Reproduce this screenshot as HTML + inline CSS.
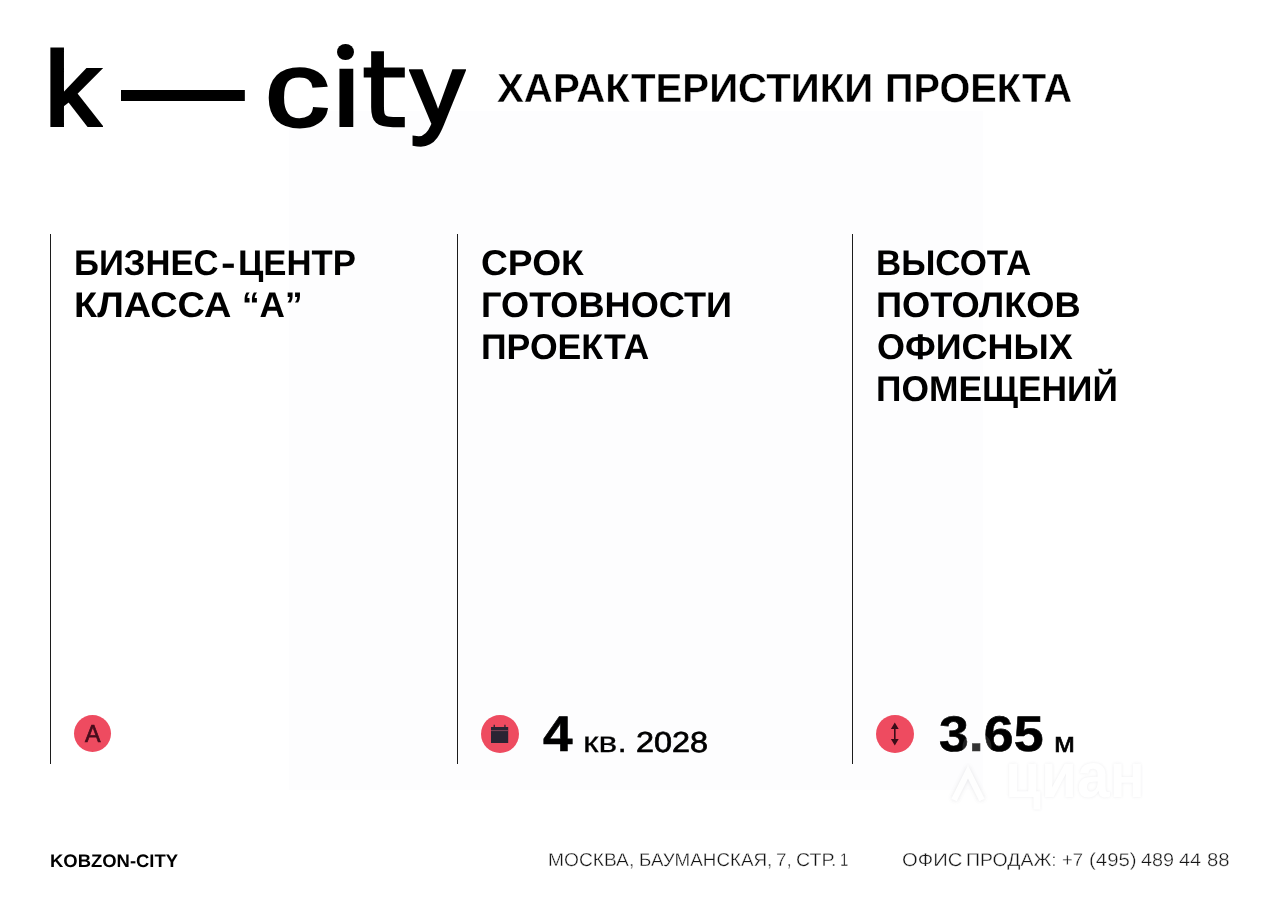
<!DOCTYPE html>
<html lang="ru">
<head>
<meta charset="utf-8">
<title>k — city · Характеристики проекта</title>
<style>
html,body{margin:0;padding:0;background:#fff}
body{width:1280px;height:906px;position:relative;overflow:hidden;font-family:"Liberation Sans",sans-serif;color:#000;text-rendering:geometricPrecision}
.panel{position:absolute;left:289px;top:111px;width:694px;height:679px;background:#fdfdfe}
.t{position:absolute;left:0;white-space:nowrap;line-height:1;margin:0;font-weight:400}
.t span{position:absolute;top:0;transform-origin:0 0;white-space:nowrap}
.b{font-weight:700}
.r{font-weight:400}
.g{position:absolute;font-weight:400;font-size:110px;line-height:1;transform-origin:0 0;white-space:nowrap}
.dot{position:absolute;left:337.3px;top:43.7px;width:16.9px;height:16.2px;border-radius:50%;background:#000}
.vl{position:absolute;top:234px;width:1px;height:530px;background:#1c1c1c}
.ic{position:absolute;width:38px;height:38px;border-radius:50%;background:#ee4b60}
.foot{color:#141414}
.ia{color:#470d1c}
.wm{position:absolute;left:1004.5px;top:745px;font-size:63px;line-height:1;font-weight:700;color:#fff;white-space:nowrap;transform-origin:0 0;transform:scaleX(.93);text-shadow:0 0 3px rgba(110,110,125,.14)}
</style>
</head>
<body>
<div class="panel"></div>

<header class="logo" aria-label="k — city">
<span class="g" style="left:44.51px;top:37.55px;transform:scale(0.994,0.9494);-webkit-text-stroke:4.0px #000">k</span> <span class="g" style="left:121.1px;top:-1.69px;transform:scale(1.1255,1.5236)">—</span> <span class="g" style="left:265.13px;top:36.65px;transform:scale(1.1708,0.9701);-webkit-text-stroke:3.0px #000">c</span><span class="g" style="left:333.56px;top:38.71px;transform:scale(1.0127,0.9371);-webkit-text-stroke:4.0px #000;clip-path:inset(31px -5px -5px -5px)">i</span><span class="g" style="left:361.64px;top:37.71px;transform:scale(1.0244,0.9506);-webkit-text-stroke:2.6px #000;font-family:'DejaVu Sans',sans-serif">t</span><span class="g" style="left:411.08px;top:39.51px;transform:scale(0.9606,0.9123);-webkit-text-stroke:4.0px #000">y</span>
<i class="dot"></i>
</header>
<h1 class="t b" style="top:68.21px;font-size:40.62px;-webkit-text-stroke:0.35px #fff"><span style="left:497.26px;transform:scaleX(0.9913)">ХАРАКТЕРИСТИКИ</span> <span style="left:885.13px;transform:scaleX(0.9763)">ПРОЕКТА</span></h1>

<div class="vl" style="left:50px"></div>
<div class="vl" style="left:457px"></div>
<div class="vl" style="left:852px"></div>

<section>
<div class="t b" style="top:245.8px;font-size:35.71px"><span style="left:74.17px;transform:scaleX(0.9698)">БИЗНЕС</span><span style="left:221.17px;transform:scaleX(1.2285)">-</span><span style="left:237.66px;transform:scaleX(0.9728)">ЦЕНТР</span></div>
<div class="t b" style="top:287.8px;font-size:35.71px"><span style="left:73.95px;transform:scaleX(1.062)">КЛАССА</span> <span style="left:242.01px;transform:scaleX(0.9856)">“А”</span></div>
<div class="ic" style="left:74px;top:715px;width:37px;height:37px"></div>
<div class="t r ia" style="top:723.45px;font-size:24.62px;-webkit-text-stroke:0.7px currentColor"><span style="left:85.27px;transform:scaleX(0.9466)">A</span></div>
</section>

<section>
<div class="t b" style="top:245.8px;font-size:35.71px"><span style="left:481.15px;transform:scaleX(1.0415)">СРОК</span></div>
<div class="t b" style="top:287.8px;font-size:35.71px"><span style="left:480.97px;transform:scaleX(1.0127)">ГОТОВНОСТИ</span></div>
<div class="t b" style="top:329.8px;font-size:35.71px"><span style="left:481.0px;transform:scaleX(0.9976)">ПРОЕКТА</span></div>
<div class="ic" style="left:481px;top:714.8px"></div>
<svg style="position:absolute;left:481px;top:714.8px" width="38" height="38" viewBox="0 0 38 38">
<path d="M10 12h17.2v16H10zM12.6 9.8h1.3V12h-1.3zM23.3 9.8h1.3V12h-1.3z" fill="#2a2433"/>
<rect x="10" y="15.2" width="17.2" height="0.9" fill="#8a4a5c"/>
</svg>
<div class="t b" style="top:710.0px;font-size:49.93px;-webkit-text-stroke:0.6px currentColor"><span style="left:542.73px;transform:scaleX(1.0631)">4</span></div>
<div class="t r med" style="top:728.6px;font-size:29.05px;-webkit-text-stroke:0.25px currentColor"><span style="left:583.33px;transform:scaleX(1.2143)">кв.</span></div>
<div class="t r med" style="top:728.74px;font-size:28.99px;-webkit-text-stroke:0.7px currentColor"><span style="left:635.74px;transform:scaleX(1.117)">2028</span></div>
</section>

<section>
<div class="t b" style="top:245.8px;font-size:35.71px"><span style="left:876.45px;transform:scaleX(0.9772)">ВЫСОТА</span></div>
<div class="t b" style="top:287.8px;font-size:35.71px"><span style="left:876.36px;transform:scaleX(1.0152)">ПОТОЛКОВ</span></div>
<div class="t b" style="top:329.8px;font-size:35.71px"><span style="left:876.59px;transform:scaleX(1.0075)">ОФИСНЫХ</span></div>
<div class="t b" style="top:371.8px;font-size:35.71px"><span style="left:876.42px;transform:scaleX(0.9904)">ПОМЕЩЕНИЙ</span></div>
<div class="ic" style="left:876px;top:714.8px"></div>
<svg style="position:absolute;left:876px;top:714.8px" width="38" height="38" viewBox="0 0 38 38">
<path d="M18.8 7.6l3.9 6.3h-3.1v10.2h3.1l-3.9 6.3-3.9-6.3h3.1V13.9h-3.1z" fill="#3a0d18"/>
</svg>
<div class="t b" style="top:710.0px;font-size:49.93px;-webkit-text-stroke:0.6px currentColor"><span style="left:938.8px;transform:scaleX(1.0754)">3.65</span></div>
<div class="t r med" style="top:727.6px;font-size:28.2px;-webkit-text-stroke:0.6px currentColor"><span style="left:1054.14px;transform:scaleX(1.0818)">м</span></div>
</section>

<div class="wm">циан</div>
<svg style="position:absolute;left:940px;top:730px" width="60" height="75" viewBox="0 0 60 75">
<circle cx="35.6" cy="18.2" r="7" fill="#fff" opacity=".2"/>
<circle cx="37" cy="17" r="12.5" fill="none" stroke="#fff" stroke-width="4" opacity=".13"/>
<path d="M14 70L28 42l14 28" fill="none" stroke="#fff" stroke-width="6" opacity=".7" style="filter:drop-shadow(0 0 2px rgba(110,110,125,.25))"/>
</svg>

<footer>
<div class="t b" style="top:851.9px;font-size:18.18px"><span style="left:49.74px;transform:scaleX(1.0145)">KOBZON-CITY</span></div>
<div class="t r foot" style="top:851.31px;font-size:18.55px;-webkit-text-stroke:0.35px #fff"><span style="left:547.97px;transform:scaleX(1.0351)">МОСКВА,</span> <span style="left:639.26px;transform:scaleX(1.0148)">БАУМАНСКАЯ,</span> <span style="left:775.93px;transform:scaleX(1.0183)">7,</span> <span style="left:795.64px;transform:scaleX(1.0588)">СТР.</span> <span style="left:840.39px;transform:scaleX(0.8)">1</span></div>
<div class="t r foot" style="top:851.31px;font-size:18.55px;-webkit-text-stroke:0.35px #fff"><span style="left:901.68px;transform:scaleX(1.0931)">ОФИС</span> <span style="left:966.01px;transform:scaleX(1.0497)">ПРОДАЖ:</span> <span style="left:1061.66px;transform:scaleX(0.9986)">+7</span> <span style="left:1088.52px;transform:scaleX(1.1011)">(495)</span> <span style="left:1141.19px;transform:scaleX(1.0687)">489</span> <span style="left:1179.18px;transform:scaleX(1.0775)">44</span> <span style="left:1206.99px;transform:scaleX(1.0981)">88</span></div>
</footer>
</body>
</html>
